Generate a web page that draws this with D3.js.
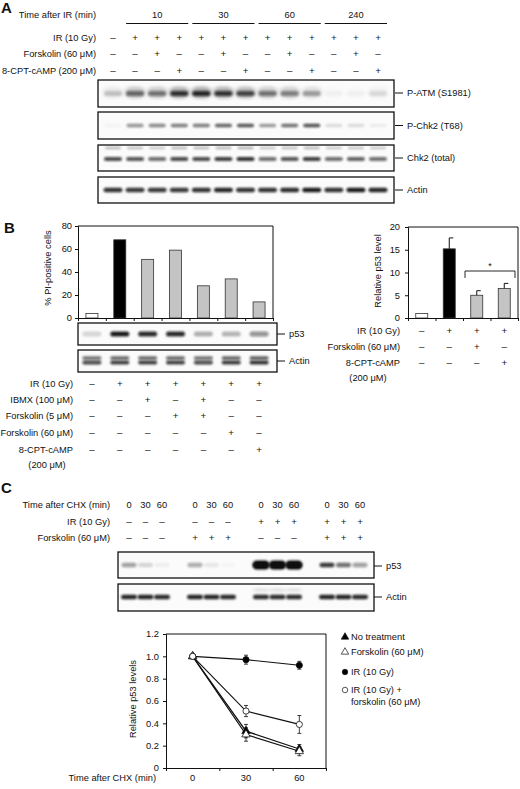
<!DOCTYPE html>
<html><head><meta charset="utf-8">
<script src="https://cdn.jsdelivr.net/npm/d3@7"></script>
<style>
body{margin:0;background:#fff}
text{font-family:"Liberation Sans",Arial,sans-serif;fill:#111}
</style></head>
<body><svg id="fig" width="520" height="789"></svg>
<script>
// ---------------- DATA ----------------
// Panel A
const aTimeGroups = ["10", "30", "60", "240"];
const aRowLabels = ["IR (10 Gy)", "Forskolin (60 μM)", "8-CPT-cAMP (200 μM)"];
const aIR     = ["-","+","+","+","+","+","+","+","+","+","+","+","+"];
const aForsk  = ["-","-","+","-","-","+","-","-","+","-","-","+","-"];
const aCPT    = ["-","-","-","+","-","-","+","-","-","+","-","-","+"];
const aBlotLabels = ["P-ATM (S1981)", "P-Chk2 (T68)", "Chk2 (total)", "Actin"];
const aPATM   = [0.18,0.55,0.5,0.8,0.85,0.78,0.7,0.5,0.45,0.3,0.03,0.03,0.1];
const aPChk2  = [0.03,0.45,0.5,0.55,0.55,0.65,0.7,0.38,0.6,0.72,0.12,0.12,0.06];
const aChk2   = [0.75,0.7,0.6,0.75,0.75,0.8,0.85,0.6,0.7,0.8,0.6,0.65,0.6];
const aActin  = [0.85,0.82,0.82,0.82,0.85,0.9,0.85,0.85,0.88,0.95,0.85,0.95,0.9];

// Panel B (left)
const bPIpos = [4, 68, 51, 59, 28, 34, 14];
const bPITicks = [0, 20, 40, 60, 80];
const bRowLabels = ["IR (10 Gy)", "IBMX (100 μM)", "Forskolin (5 μM)", "Forskolin (60 μM)", "8-CPT-cAMP"];
const bIR     = ["-","+","+","+","+","+","+"];
const bIBMX   = ["-","-","+","-","+","-","-"];
const bForsk5 = ["-","-","-","+","+","-","-"];
const bForsk60= ["-","-","-","-","-","+","-"];
const bCPT    = ["-","-","-","-","-","-","+"];
const bP53    = [0.15,0.95,0.88,0.88,0.3,0.28,0.45];
const bActin  = [0.75,0.8,0.8,0.8,0.75,0.82,0.85];

// Panel B (right)
const brP53 = [1, 15.2, 5, 6.5];
const brErr = [0, 2.4, 1, 1.1];
const brTicks = [0, 5, 10, 15, 20];
const brRowLabels = ["IR (10 Gy)", "Forskolin (60 μM)", "8-CPT-cAMP"];
const brIR    = ["-","+","+","+"];
const brForsk = ["-","-","+","-"];
const brCPT   = ["-","-","-","+"];

// Panel C
const cTimes = ["0", "30", "60"];
const cRowLabels = ["Time after CHX (min)", "IR (10 Gy)", "Forskolin (60 μM)"];
const cIR    = ["-","-","+","+"];
const cForsk = ["-","+","-","+"];
const cP53   = [0.4,0.15,0.05,0.35,0.08,0.02,1,1,1,0.82,0.6,0.4];
const cActin = [0.9,0.9,0.88,0.9,0.9,0.88,0.88,0.88,0.88,0.9,0.9,0.88];

// Panel C line chart
const cX = [0, 30, 60];
const cSeriesNames = ["No treatment", "Forskolin (60 μM)", "IR (10 Gy)", "IR (10 Gy) +"];
const cNoTreat   = [1.0, 0.33, 0.17];
const cNoTreatE  = [0, 0.06, 0.04];
const cForskS    = [1.0, 0.30, 0.15];
const cForskE    = [0, 0.06, 0.04];
const cIRS       = [1.0, 0.97, 0.92];
const cIRE       = [0, 0.04, 0.035];
const cIRForsk   = [1.0, 0.51, 0.39];
const cIRForskE  = [0, 0.05, 0.08];
const cYTicks = [0, 0.2, 0.4, 0.6, 0.8, 1.0, 1.2];

// ---------------- DRAW ----------------
const svg = d3.select("#fig");
const FS = 9.3;
const defs = svg.append("defs");
defs.append("filter").attr("id","blur").attr("x","-30%").attr("y","-80%").attr("width","160%").attr("height","260%")
  .append("feGaussianBlur").attr("stdDeviation","1.3 0.9");
defs.append("filter").attr("id","blur2").attr("x","-30%").attr("y","-80%").attr("width","160%").attr("height","260%")
  .append("feGaussianBlur").attr("stdDeviation","2 1.5");

const sign = s => s === "+" ? "+" : "–";

function panelLetter(t, x, y){
  svg.append("text").attr("x",x).attr("y",y).attr("font-size",15).attr("font-weight","bold").text(t);
}
function label(g, t, x, y, anchor="end", size=FS){
  return g.append("text").attr("x",x).attr("y",y).attr("dy","0.35em").attr("font-size",size)
    .attr("text-anchor",anchor).text(t);
}
function signRow(g, arr, xf, y){
  g.selectAll(null).data(arr).join("text")
    .attr("x",(d,i)=>xf(i)).attr("y",y).attr("dy","0.35em").attr("font-size",FS+0.5)
    .attr("text-anchor","middle").text(sign);
}
function blotBox(g, x0, x1, y0, y1){
  g.append("rect").attr("x",x0).attr("y",y0).attr("width",x1-x0).attr("height",y1-y0)
    .attr("fill","#fbfbfb").attr("stroke","#111").attr("stroke-width",1.3);
}
function bands(g, vals, xf, yc, bw, bh, filt="url(#blur)", dy=0){
  g.selectAll(null).data(vals).join("rect")
    .attr("x",(d,i)=>xf(i)-bw/2).attr("y",yc-bh/2+dy).attr("width",bw).attr("height",bh)
    .attr("rx",bh/2).attr("fill","#111").attr("fill-opacity",d=>d).attr("filter",filt);
}
function blotLabel(g, t, xr, y){
  g.append("line").attr("x1",xr).attr("x2",xr+8).attr("y1",y).attr("y2",y).attr("stroke","#111");
  label(g, t, xr+12, y, "start");
}

// ===== Panel A =====
panelLetter("A", 1, 13);
const gA = svg.append("g");
const xA = d3.scalePoint().domain(d3.range(13)).range([113, 378]);
label(gA, "Time after IR (min)", 96, 15);
aTimeGroups.forEach((t,gi)=>{
  const l = xA(gi*3+1)-9, r = xA(gi*3+3)+9;
  label(gA, t, (l+r)/2, 15, "middle");
  gA.append("line").attr("x1",l).attr("x2",r).attr("y1",23.5).attr("y2",23.5).attr("stroke","#111").attr("stroke-width",1.2);
});
[aIR, aForsk, aCPT].forEach((arr,ri)=>{
  const y = [38, 54, 71][ri];
  label(gA, aRowLabels[ri], 96, y);
  signRow(gA, arr, xA, y);
});
const aBoxes = [[80,107],[112,139],[145,171],[177,203]];
aBoxes.forEach(([y0,y1],bi)=>{
  blotBox(gA, 98, 394, y0, y1);
  const yc = (y0+y1)/2;
  if(bi===0){
    bands(gA, aPATM.map(v=>v*0.35), xA, yc-1, 20, 12, "url(#blur2)");
    bands(gA, aPATM, xA, yc, 18, 5);
  } else if(bi===1){
    bands(gA, aPChk2, xA, yc, 17, 3.5);
  } else if(bi===2){
    bands(gA, aChk2.map(v=>v*0.35), xA, y0+3, 16, 2.5);
    bands(gA, aChk2, xA, yc+1, 18, 4);
  } else {
    bands(gA, aActin, xA, yc, 19, 4.5);
  }
  blotLabel(gA, aBlotLabels[bi], 395, bi===0? 93 : yc);
});

// ===== Panel B left =====
panelLetter("B", 4, 233);
const gB = svg.append("g");
const xBc = i => 78 + (273-78)/7*(i+0.5);
const yB = d3.scaleLinear().domain([0,80]).range([318, 226]);
gB.append("path").attr("d",`M78,226H273V318`).attr("fill","none").attr("stroke","#111").attr("stroke-width",1);
gB.selectAll(".bar").data(bPIpos).join("rect")
  .attr("x",(d,i)=>xBc(i)-6).attr("width",12)
  .attr("y",d=>yB(d)).attr("height",d=>yB(0)-yB(d))
  .attr("fill",(d,i)=> i===0 ? "#fff" : i===1 ? "#000" : "#c4c4c4")
  .attr("stroke","#333").attr("stroke-width",0.8);
const axBL = gB.append("g").attr("transform","translate(78,0)")
  .call(d3.axisLeft(yB).tickValues(bPITicks).tickSize(3).tickPadding(3).tickFormat(d3.format("d")));
axBL.selectAll("text").attr("font-size",FS).attr("font-family","Liberation Sans, Arial, sans-serif").attr("fill","#111");
axBL.selectAll("line,path").attr("stroke","#111");
const xBedges = d3.scaleLinear().domain([0,7]).range([78,273]);
const axBB = gB.append("g").attr("transform","translate(0,318)")
  .call(d3.axisBottom(xBedges).tickValues(d3.range(0,8)).tickSize(3).tickFormat(""));
axBB.selectAll("line,path").attr("stroke","#111");
gB.append("text").attr("transform","translate(48,268) rotate(-90)").attr("text-anchor","middle")
  .attr("dy","0.35em").attr("font-size",FS).text("% PI-positive cells");
blotBox(gB, 78, 277, 323, 345);
bands(gB, bP53, xBc, 334, 19, 5);
blotLabel(gB, "p53", 277, 334);
blotBox(gB, 78, 277, 350, 372);
bands(gB, bActin.map(v=>v*0.8), xBc, 358, 19, 3.5);
bands(gB, bActin, xBc, 362.5, 19, 4);
blotLabel(gB, "Actin", 277, 361);
[bIR, bIBMX, bForsk5, bForsk60, bCPT].forEach((arr,ri)=>{
  const y = [384, 400, 416, 433, 450][ri];
  label(gB, bRowLabels[ri], 73, y);
  signRow(gB, arr, xBc, y);
});
label(gB, "(200 μM)", 47, 465, "middle");

// ===== Panel B right =====
const gR = svg.append("g");
const xR = d3.scaleBand().domain(d3.range(4)).range([408, 518]);
const xRc = i => xR(i) + xR.bandwidth()/2;
const yR = d3.scaleLinear().domain([0,20]).range([318, 227]);
gR.append("path").attr("d",`M408,227H518V318`).attr("fill","none").attr("stroke","#111");
gR.selectAll(".bar").data(brP53).join("rect")
  .attr("x",(d,i)=>xRc(i)-6).attr("width",12)
  .attr("y",d=>yR(d)).attr("height",d=>yR(0)-yR(d))
  .attr("fill",(d,i)=> i===0 ? "#fff" : i===1 ? "#000" : "#c4c4c4")
  .attr("stroke","#333").attr("stroke-width",0.8);
brP53.forEach((v,i)=>{
  if(!brErr[i]) return;
  const x = xRc(i), yt = yR(v+brErr[i]);
  gR.append("line").attr("x1",x).attr("x2",x).attr("y1",yR(v)).attr("y2",yt).attr("stroke","#111");
  gR.append("line").attr("x1",x).attr("x2",x+4).attr("y1",yt).attr("y2",yt).attr("stroke","#111");
});
const axRL = gR.append("g").attr("transform","translate(408,0)")
  .call(d3.axisLeft(yR).tickValues(brTicks).tickSize(3).tickPadding(5).tickFormat(d3.format("d")));
axRL.selectAll("text").attr("font-size",FS).attr("font-family","Liberation Sans, Arial, sans-serif").attr("fill","#111");
axRL.selectAll("line,path").attr("stroke","#111");
const xRedges = d3.scaleLinear().domain([0,4]).range([408,518]);
const axRB = gR.append("g").attr("transform","translate(0,318)")
  .call(d3.axisBottom(xRedges).tickValues(d3.range(0,5)).tickSize(3).tickFormat(""));
axRB.selectAll("line,path").attr("stroke","#111");
gR.append("text").attr("transform","translate(378,271) rotate(-90)").attr("text-anchor","middle")
  .attr("dy","0.35em").attr("font-size",FS).text("Relative p53 level");
const bl = xR(2)+2, br = xR(3)+xR.bandwidth()-3;
gR.append("path").attr("d",`M${bl},278V271H${br}V278`).attr("fill","none").attr("stroke","#111").attr("stroke-width",0.9);
label(gR, "*", (bl+br)/2, 266, "middle", 9);
[brIR, brForsk, brCPT].forEach((arr,ri)=>{
  const y = [331, 347, 363][ri];
  label(gR, brRowLabels[ri], 400, y);
  signRow(gR, arr, xRc, y);
});
label(gR, "(200 μM)", 368, 378, "middle");

// ===== Panel C =====
panelLetter("C", 1, 493);
const gC = svg.append("g");
const xC = d3.scaleLinear().domain([0,15]).range([129, 376.5]);
const laneC = i => xC(Math.floor(i/3)*4 + i%3);
cRowLabels.forEach((t,ri)=> label(gC, t, 110, [505,522,538][ri]));
d3.range(12).forEach(i=>{
  label(gC, cTimes[i%3], laneC(i), 505, "middle");
});
signRow(gC, d3.range(12).map(i=>cIR[Math.floor(i/3)]), laneC, 522);
signRow(gC, d3.range(12).map(i=>cForsk[Math.floor(i/3)]), laneC, 538);
blotBox(gC, 118, 374, 552, 578);
bands(gC, cP53.map(v=>v>0.9?v:0), laneC, 565, 17, 9);
bands(gC, cP53, laneC, 565, 15, 4.5);
blotLabel(gC, "p53", 374, 566);
blotBox(gC, 118, 374, 584, 611);
bands(gC, cP53.map(v=>v>0.9?0.12:0), laneC, 590, 15, 3, "url(#blur2)");
bands(gC, cActin, laneC, 597, 16, 4.5);
blotLabel(gC, "Actin", 374, 597);

// Line chart
const gL = svg.append("g");
const xL = d3.scaleLinear().domain([-15,75]).range([166,326]);
const yL = d3.scaleLinear().domain([0,1.2]).range([768,634]);
gL.append("path").attr("d",`M166,634H326V768`).attr("fill","none").attr("stroke","#111");
const axLL = gL.append("g").attr("transform","translate(166,0)")
  .call(d3.axisLeft(yL).tickValues(cYTicks).tickSize(3).tickPadding(4).tickFormat(d=> d===0 ? "0" : d3.format(".1f")(d)));
const axLB = gL.append("g").attr("transform","translate(0,768)")
  .call(d3.axisBottom(xL).tickValues([-15,15,45,75]).tickSize(3).tickFormat(""));
[axLL, axLB].forEach(a=>{
  a.selectAll("text").attr("font-size",FS).attr("font-family","Liberation Sans, Arial, sans-serif").attr("fill","#111");
  a.selectAll("line,path").attr("stroke","#111");
});
cX.forEach(v=> label(gL, String(v), xL(v), 778, "middle"));
label(gL, "Time after CHX (min)", 156, 778);
gL.append("text").attr("transform","translate(133,699) rotate(-90)").attr("text-anchor","middle")
  .attr("dy","0.35em").attr("font-size",FS).text("Relative p53 levels");

const series = [
  {v:cNoTreat, e:cNoTreatE, sym:d3.symbolTriangle, fill:"#000"},
  {v:cForskS,  e:cForskE,   sym:d3.symbolTriangle, fill:"#fff"},
  {v:cIRS,     e:cIRE,      sym:d3.symbolCircle,   fill:"#000"},
  {v:cIRForsk, e:cIRForskE, sym:d3.symbolCircle,   fill:"#fff"}
];
const line = d3.line().x((d,i)=>xL(cX[i])).y(d=>yL(d));
series.forEach(s=>{
  gL.append("path").attr("d",line(s.v)).attr("fill","none").attr("stroke","#111").attr("stroke-width",1.2);
});
series.forEach(s=>{
  s.v.forEach((v,i)=>{
    if(!s.e[i]) return;
    const x = xL(cX[i]);
    gL.append("line").attr("x1",x).attr("x2",x).attr("y1",yL(v-s.e[i])).attr("y2",yL(v+s.e[i])).attr("stroke","#111").attr("stroke-width",0.8);
    [v-s.e[i], v+s.e[i]].forEach(w=> gL.append("line").attr("x1",x-2).attr("x2",x+2).attr("y1",yL(w)).attr("y2",yL(w)).attr("stroke","#111").attr("stroke-width",0.8));
  });
});
series.forEach(s=>{
  gL.selectAll(null).data(s.v).join("path")
    .attr("transform",(d,i)=>`translate(${xL(cX[i])},${yL(d)})`)
    .attr("d",d3.symbol().type(s.sym).size(30))
    .attr("fill",s.fill).attr("stroke","#111").attr("stroke-width",0.8);
});
const legY = [637, 652, 672, 690];
series.forEach((s,i)=>{
  gL.append("path").attr("transform",`translate(345,${legY[i]})`)
    .attr("d",d3.symbol().type(s.sym).size(24)).attr("fill",s.fill).attr("stroke","#111").attr("stroke-width",0.7);
  label(gL, cSeriesNames[i], 351, legY[i], "start");
});
label(gL, "forskolin (60 μM)", 351, 702, "start");
</script></body></html>
